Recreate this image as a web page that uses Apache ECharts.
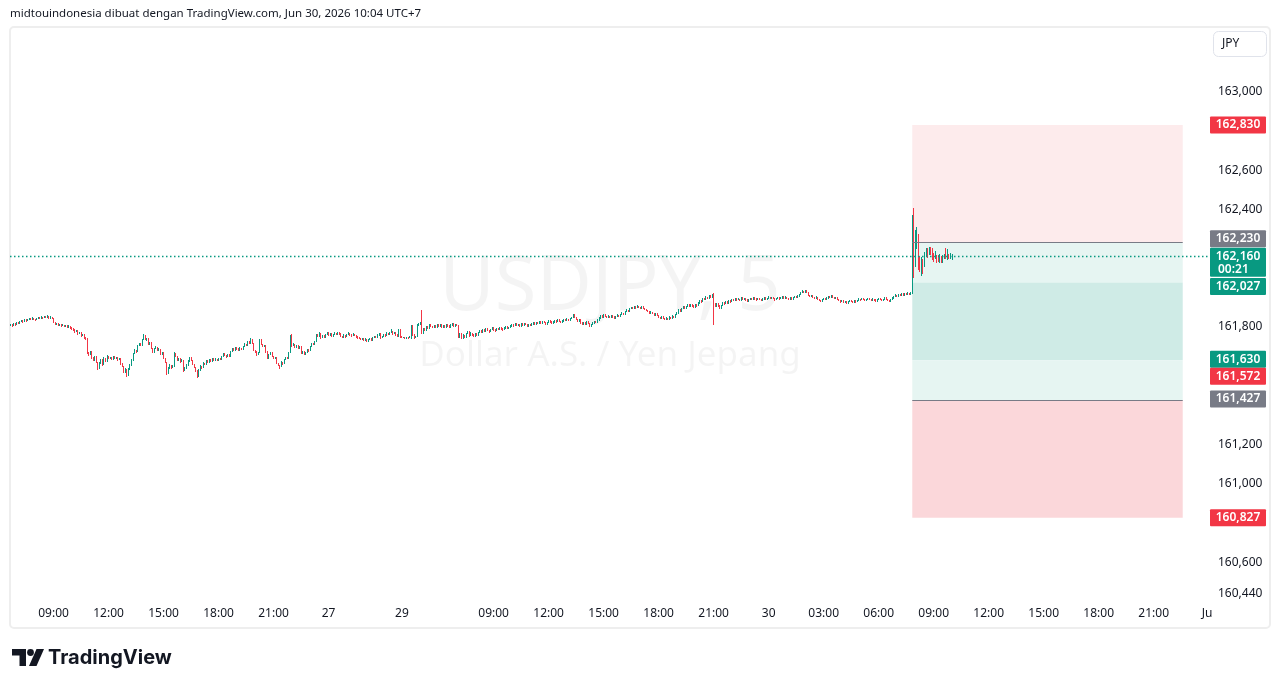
<!DOCTYPE html>
<html>
<head>
<meta charset="utf-8">
<script src="https://cdn.jsdelivr.net/npm/echarts@6/dist/echarts.min.js"></script>
<style>
  html, body { margin: 0; padding: 0; background: #fff; }
  #chart { width: 1281px; height: 688px; }
</style>
</head>
<body>
<div id="chart"></div>
<script>
// USDJPY 5 menit, sesi perdagangan (UTC+7), akhir pekan dilewati
const sessions = [
  ['2026-06-26 06:40', '2026-06-27 03:55'],
  ['2026-06-29 04:00', '2026-07-01 00:05']
]

// label sumbu waktu
const timeLabels = [
  ['2026-06-26 09:00', '09:00'], ['2026-06-26 12:00', '12:00'], ['2026-06-26 15:00', '15:00'],
  ['2026-06-26 18:00', '18:00'], ['2026-06-26 21:00', '21:00'], ['2026-06-27 00:00', '27'],
  ['2026-06-29 04:00', '29'], ['2026-06-29 09:00', '09:00'], ['2026-06-29 12:00', '12:00'],
  ['2026-06-29 15:00', '15:00'], ['2026-06-29 18:00', '18:00'], ['2026-06-29 21:00', '21:00'],
  ['2026-06-30 00:00', '30'], ['2026-06-30 03:00', '03:00'], ['2026-06-30 06:00', '06:00'],
  ['2026-06-30 09:00', '09:00'], ['2026-06-30 12:00', '12:00'], ['2026-06-30 15:00', '15:00'],
  ['2026-06-30 18:00', '18:00'], ['2026-06-30 21:00', '21:00'], ['2026-07-01 00:00', 'Jul']
]

// label harga sumbu kanan
const priceTicks = [160.44, 160.6, 161.0, 161.2, 161.8, 162.4, 162.6, 163.0]

// [open, close, low, high]
const candles = [
  [161.808,161.812,161.803,161.816],[161.812,161.805,161.801,161.815],[161.805,161.815,161.803,161.818],[161.815,161.810,161.806,161.819],[161.810,161.822,161.808,161.825],[161.822,161.818,161.814,161.826],
  [161.818,161.828,161.816,161.831],[161.828,161.832,161.825,161.836],[161.832,161.826,161.822,161.835],[161.826,161.835,161.824,161.839],[161.835,161.830,161.827,161.838],[161.830,161.838,161.828,161.842],
  [161.838,161.842,161.835,161.846],[161.842,161.836,161.833,161.845],[161.836,161.845,161.834,161.849],[161.845,161.840,161.837,161.848],[161.840,161.835,161.831,161.842],[161.835,161.843,161.833,161.846],
  [161.843,161.848,161.840,161.852],[161.848,161.842,161.839,161.850],[161.842,161.850,161.840,161.854],[161.850,161.846,161.843,161.853],[161.846,161.852,161.844,161.856],[161.852,161.848,161.845,161.855],
  [161.848,161.855,161.846,161.859],[161.855,161.846,161.843,161.857],[161.846,161.850,161.842,161.854],[161.850,161.842,161.838,161.852],[161.842,161.822,161.818,161.845],[161.822,161.815,161.811,161.825],
  [161.815,161.818,161.812,161.822],[161.818,161.808,161.804,161.820],[161.808,161.812,161.805,161.816],[161.812,161.805,161.801,161.814],[161.805,161.810,161.803,161.814],[161.810,161.802,161.798,161.812],
  [161.802,161.808,161.800,161.811],[161.808,161.800,161.796,161.810],[161.800,161.805,161.797,161.808],[161.805,161.796,161.792,161.807],[161.796,161.790,161.786,161.799],[161.790,161.785,161.781,161.793],
  [161.785,161.775,161.771,161.787],[161.775,161.780,161.772,161.783],[161.780,161.765,161.761,161.782],[161.765,161.770,161.762,161.774],[161.770,161.755,161.751,161.772],[161.755,161.760,161.752,161.764],
  [161.760,161.745,161.741,161.762],[161.745,161.740,161.735,161.749],[161.740,161.668,161.662,161.742],[161.668,161.660,161.652,161.672],[161.660,161.672,161.656,161.676],[161.672,161.640,161.635,161.675],
  [161.640,161.630,161.625,161.645],[161.630,161.648,161.627,161.652],[161.648,161.620,161.615,161.650],[161.620,161.590,161.578,161.623],[161.590,161.615,161.586,161.619],[161.615,161.632,161.612,161.637],
  [161.632,161.608,161.603,161.634],[161.608,161.640,161.605,161.645],[161.640,161.625,161.620,161.643],[161.625,161.650,161.622,161.655],[161.650,161.638,161.634,161.653],[161.638,161.645,161.635,161.649],
  [161.645,161.635,161.631,161.648],[161.635,161.648,161.633,161.652],[161.648,161.640,161.637,161.651],[161.640,161.645,161.637,161.649],[161.645,161.632,161.628,161.647],[161.632,161.638,161.629,161.641],
  [161.638,161.610,161.606,161.640],[161.610,161.600,161.596,161.614],[161.600,161.570,161.565,161.603],[161.570,161.585,161.566,161.589],[161.585,161.555,161.545,161.587],[161.555,161.585,161.552,161.590],
  [161.585,161.605,161.582,161.609],[161.605,161.630,161.602,161.634],[161.630,161.665,161.627,161.669],[161.665,161.680,161.662,161.685],[161.680,161.672,161.668,161.684],[161.672,161.705,161.670,161.709],
  [161.705,161.715,161.701,161.720],[161.715,161.708,161.704,161.718],[161.708,161.735,161.705,161.739],[161.735,161.755,161.732,161.765],[161.755,161.735,161.731,161.758],[161.735,161.740,161.730,161.744],
  [161.740,161.712,161.708,161.743],[161.712,161.720,161.709,161.724],[161.720,161.690,161.686,161.722],[161.690,161.672,161.667,161.693],[161.672,161.690,161.669,161.694],[161.690,161.698,161.686,161.702],
  [161.698,161.680,161.676,161.700],[161.680,161.688,161.677,161.692],[161.688,161.660,161.656,161.690],[161.660,161.668,161.657,161.672],[161.668,161.640,161.636,161.670],[161.640,161.620,161.615,161.643],
  [161.620,161.565,161.556,161.622],[161.565,161.590,161.562,161.594],[161.590,161.605,161.586,161.609],[161.605,161.592,161.588,161.608],[161.592,161.600,161.589,161.604],[161.600,161.665,161.597,161.670],
  [161.665,161.650,161.646,161.668],[161.650,161.628,161.624,161.652],[161.628,161.640,161.625,161.644],[161.640,161.622,161.618,161.642],[161.622,161.630,161.619,161.634],[161.630,161.578,161.572,161.632],
  [161.578,161.590,161.575,161.594],[161.590,161.605,161.587,161.609],[161.605,161.625,161.602,161.629],[161.625,161.642,161.622,161.647],[161.642,161.630,161.626,161.645],[161.630,161.610,161.606,161.632],
  [161.610,161.595,161.590,161.613],[161.595,161.575,161.570,161.598],[161.575,161.548,161.540,161.578],[161.548,161.580,161.545,161.584],[161.580,161.600,161.577,161.604],[161.600,161.592,161.588,161.603],
  [161.592,161.615,161.589,161.619],[161.615,161.610,161.606,161.618],[161.610,161.628,161.607,161.632],[161.628,161.620,161.616,161.631],[161.620,161.632,161.618,161.636],[161.632,161.625,161.621,161.635],
  [161.625,161.638,161.622,161.642],[161.638,161.630,161.626,161.641],[161.630,161.636,161.627,161.640],[161.636,161.628,161.624,161.639],[161.628,161.640,161.625,161.644],[161.640,161.635,161.631,161.643],
  [161.635,161.650,161.632,161.654],[161.650,161.662,161.647,161.667],[161.662,161.655,161.651,161.665],[161.655,161.648,161.644,161.658],[161.648,161.660,161.645,161.664],[161.660,161.652,161.648,161.663],
  [161.652,161.675,161.649,161.679],[161.675,161.690,161.672,161.694],[161.690,161.682,161.678,161.693],[161.682,161.695,161.679,161.699],[161.695,161.688,161.684,161.698],[161.688,161.680,161.676,161.691],
  [161.680,161.692,161.677,161.696],[161.692,161.685,161.681,161.695],[161.685,161.700,161.682,161.704],[161.700,161.712,161.697,161.716],[161.712,161.705,161.701,161.715],[161.705,161.725,161.702,161.729],
  [161.725,161.718,161.714,161.728],[161.718,161.738,161.715,161.745],[161.738,161.715,161.711,161.741],[161.715,161.680,161.676,161.718],[161.680,161.672,161.667,161.684],[161.672,161.658,161.653,161.675],
  [161.658,161.668,161.655,161.672],[161.668,161.735,161.665,161.740],[161.735,161.712,161.708,161.738],[161.712,161.700,161.696,161.715],[161.700,161.705,161.697,161.709],[161.705,161.672,161.668,161.708],
  [161.672,161.640,161.636,161.675],[161.640,161.660,161.637,161.664],[161.660,161.670,161.657,161.674],[161.670,161.650,161.646,161.673],[161.650,161.638,161.634,161.653],[161.638,161.645,161.635,161.649],
  [161.645,161.615,161.611,161.647],[161.615,161.605,161.601,161.618],[161.605,161.598,161.588,161.608],[161.598,161.620,161.595,161.624],[161.620,161.612,161.608,161.623],[161.612,161.632,161.609,161.636],
  [161.632,161.645,161.629,161.649],[161.645,161.640,161.636,161.648],[161.640,161.668,161.637,161.672],[161.668,161.755,161.665,161.760],[161.755,161.705,161.700,161.765],[161.705,161.712,161.701,161.716],
  [161.712,161.695,161.691,161.715],[161.695,161.705,161.692,161.709],[161.705,161.690,161.686,161.708],[161.690,161.700,161.687,161.704],[161.700,161.665,161.661,161.702],[161.665,161.672,161.662,161.676],
  [161.672,161.660,161.656,161.675],[161.660,161.668,161.657,161.672],[161.668,161.685,161.665,161.689],[161.685,161.678,161.674,161.688],[161.678,161.700,161.675,161.704],[161.700,161.715,161.697,161.719],
  [161.715,161.710,161.706,161.718],[161.710,161.725,161.707,161.729],[161.725,161.760,161.722,161.765],[161.760,161.752,161.748,161.763],[161.752,161.768,161.749,161.772],[161.768,161.745,161.741,161.770],
  [161.745,161.755,161.742,161.759],[161.755,161.748,161.744,161.758],[161.748,161.762,161.745,161.766],[161.762,161.770,161.759,161.774],[161.770,161.758,161.754,161.773],[161.758,161.765,161.755,161.769],
  [161.765,161.752,161.748,161.768],[161.752,161.760,161.749,161.764],[161.760,161.768,161.757,161.772],[161.768,161.762,161.758,161.771],[161.762,161.770,161.759,161.774],[161.770,161.765,161.761,161.773],
  [161.765,161.752,161.748,161.768],[161.752,161.748,161.744,161.755],[161.748,161.758,161.745,161.762],[161.758,161.750,161.746,161.761],[161.750,161.762,161.747,161.766],[161.762,161.768,161.759,161.772],
  [161.768,161.760,161.756,161.771],[161.760,161.755,161.751,161.763],[161.755,161.763,161.752,161.767],[161.763,161.758,161.754,161.766],[161.758,161.750,161.746,161.761],[161.750,161.745,161.741,161.753],
  [161.745,161.740,161.736,161.748],[161.740,161.735,161.731,161.743],[161.735,161.742,161.732,161.746],[161.742,161.730,161.726,161.745],[161.730,161.738,161.727,161.742],[161.738,161.728,161.724,161.741],
  [161.728,161.735,161.725,161.739],[161.735,161.740,161.732,161.744],[161.740,161.732,161.728,161.743],[161.732,161.745,161.729,161.749],[161.745,161.752,161.742,161.756],[161.752,161.748,161.744,161.755],
  [161.748,161.758,161.745,161.762],[161.758,161.765,161.755,161.770],[161.765,161.745,161.741,161.768],[161.745,161.752,161.742,161.756],[161.752,161.760,161.749,161.764],[161.760,161.755,161.751,161.763],
  [161.755,161.768,161.752,161.772],[161.768,161.762,161.758,161.771],[161.762,161.770,161.759,161.774],[161.770,161.778,161.767,161.790],[161.778,161.765,161.761,161.781],[161.765,161.772,161.762,161.776],
  [161.772,161.760,161.756,161.775],[161.760,161.752,161.748,161.763],[161.752,161.785,161.749,161.789],[161.785,161.750,161.746,161.788],
  [161.750,161.745,161.742,161.752],[161.745,161.748,161.743,161.750],
  [161.748,161.742,161.740,161.750],[161.742,161.746,161.740,161.748],[161.746,161.744,161.741,161.748],[161.744,161.750,161.742,161.753],[161.750,161.805,161.738,161.812],[161.805,161.760,161.756,161.808],
  [161.760,161.745,161.738,161.763],[161.745,161.752,161.742,161.756],[161.752,161.810,161.749,161.815],[161.810,161.815,161.806,161.820],[161.815,161.822,161.812,161.826],[161.822,161.770,161.765,161.887],
  [161.770,161.790,161.766,161.794],[161.790,161.782,161.778,161.793],[161.782,161.800,161.779,161.804],[161.800,161.795,161.791,161.803],[161.795,161.810,161.792,161.814],[161.810,161.802,161.798,161.813],
  [161.802,161.798,161.794,161.805],[161.798,161.808,161.795,161.812],[161.808,161.800,161.796,161.811],[161.800,161.812,161.797,161.816],[161.812,161.805,161.801,161.815],[161.805,161.810,161.802,161.814],
  [161.810,161.798,161.794,161.813],[161.798,161.805,161.795,161.809],[161.805,161.800,161.796,161.808],[161.800,161.812,161.797,161.816],[161.812,161.806,161.802,161.815],[161.806,161.800,161.796,161.809],
  [161.800,161.810,161.797,161.814],[161.810,161.815,161.807,161.819],[161.815,161.805,161.801,161.818],[161.805,161.812,161.802,161.816],[161.812,161.808,161.804,161.815],[161.808,161.750,161.745,161.811],
  [161.750,161.765,161.746,161.769],[161.765,161.742,161.737,161.768],[161.742,161.758,161.739,161.762],[161.758,161.748,161.744,161.761],[161.748,161.765,161.745,161.769],[161.765,161.775,161.762,161.779],
  [161.775,161.755,161.751,161.778],[161.755,161.768,161.752,161.772],[161.768,161.760,161.756,161.771],[161.760,161.752,161.748,161.763],[161.752,161.765,161.749,161.769],[161.765,161.758,161.754,161.768],
  [161.758,161.770,161.755,161.774],[161.770,161.780,161.767,161.784],[161.780,161.772,161.768,161.783],[161.772,161.785,161.769,161.789],[161.785,161.778,161.774,161.788],[161.778,161.790,161.775,161.794],
  [161.790,161.782,161.778,161.793],[161.782,161.775,161.771,161.785],[161.775,161.788,161.772,161.792],[161.788,161.795,161.785,161.799],[161.795,161.785,161.781,161.798],[161.785,161.780,161.776,161.788],
  [161.780,161.792,161.777,161.796],[161.792,161.786,161.782,161.795],[161.786,161.795,161.783,161.799],[161.795,161.790,161.786,161.798],[161.790,161.785,161.781,161.793],[161.785,161.795,161.782,161.799],
  [161.795,161.800,161.792,161.804],[161.800,161.792,161.788,161.803],[161.792,161.798,161.789,161.802],[161.798,161.805,161.795,161.809],[161.805,161.812,161.802,161.816],[161.812,161.806,161.802,161.815],
  [161.806,161.815,161.803,161.819],[161.815,161.808,161.804,161.818],[161.808,161.812,161.805,161.816],[161.812,161.805,161.801,161.815],[161.805,161.815,161.802,161.819],[161.815,161.810,161.806,161.818],
  [161.810,161.818,161.807,161.822],[161.818,161.812,161.808,161.821],[161.812,161.805,161.801,161.815],[161.805,161.812,161.802,161.816],[161.812,161.808,161.804,161.815],[161.808,161.815,161.805,161.819],
  [161.815,161.822,161.812,161.826],[161.822,161.815,161.811,161.825],[161.815,161.822,161.812,161.826],[161.822,161.818,161.814,161.825],[161.818,161.825,161.815,161.829],[161.825,161.820,161.816,161.828],
  [161.820,161.828,161.817,161.832],[161.828,161.822,161.818,161.831],[161.822,161.815,161.811,161.825],[161.815,161.822,161.812,161.826],[161.822,161.830,161.819,161.834],[161.830,161.825,161.821,161.833],
  [161.825,161.818,161.814,161.828],[161.818,161.825,161.815,161.829],[161.825,161.832,161.822,161.836],[161.832,161.826,161.822,161.835],[161.826,161.835,161.823,161.839],[161.835,161.828,161.824,161.838],
  [161.828,161.822,161.818,161.831],[161.822,161.830,161.819,161.834],[161.830,161.838,161.827,161.842],[161.838,161.832,161.828,161.841],[161.832,161.840,161.829,161.844],[161.840,161.835,161.831,161.843],
  [161.835,161.842,161.832,161.846],[161.842,161.848,161.839,161.852],[161.848,161.862,161.845,161.867],[161.862,161.850,161.846,161.865],[161.850,161.838,161.834,161.853],[161.838,161.828,161.824,161.841],
  [161.828,161.835,161.825,161.839],[161.835,161.820,161.816,161.838],[161.820,161.812,161.808,161.823],[161.812,161.820,161.809,161.824],[161.820,161.812,161.808,161.823],[161.812,161.825,161.809,161.829],
  [161.825,161.818,161.814,161.828],[161.818,161.805,161.801,161.821],[161.805,161.812,161.802,161.816],[161.812,161.820,161.809,161.824],[161.820,161.828,161.817,161.832],[161.828,161.822,161.818,161.831],
  [161.822,161.835,161.819,161.839],[161.835,161.845,161.832,161.849],[161.845,161.858,161.842,161.863],[161.858,161.850,161.846,161.861],[161.850,161.862,161.847,161.866],[161.862,161.855,161.851,161.865],
  [161.855,161.848,161.844,161.858],[161.848,161.855,161.845,161.859],[161.855,161.850,161.846,161.858],[161.850,161.858,161.847,161.862],[161.858,161.852,161.848,161.861],[161.852,161.845,161.841,161.855],
  [161.845,161.852,161.842,161.856],[161.852,161.860,161.849,161.864],[161.860,161.855,161.851,161.863],[161.855,161.862,161.852,161.866],[161.862,161.870,161.859,161.874],[161.870,161.865,161.861,161.873],
  [161.865,161.878,161.862,161.882],[161.878,161.885,161.875,161.889],[161.885,161.880,161.876,161.888],[161.880,161.892,161.877,161.896],[161.892,161.900,161.889,161.904],[161.900,161.895,161.891,161.903],
  [161.895,161.905,161.892,161.909],[161.905,161.898,161.894,161.908],[161.898,161.906,161.895,161.910],[161.906,161.900,161.896,161.909],[161.900,161.895,161.891,161.903],[161.895,161.902,161.892,161.906],
  [161.902,161.896,161.892,161.905],[161.896,161.890,161.886,161.899],[161.890,161.885,161.881,161.893],[161.885,161.878,161.874,161.888],[161.878,161.870,161.866,161.881],[161.870,161.875,161.867,161.879],
  [161.875,161.868,161.864,161.878],[161.868,161.860,161.856,161.871],[161.860,161.866,161.857,161.870],[161.866,161.858,161.854,161.869],[161.858,161.850,161.846,161.861],[161.850,161.845,161.841,161.853],
  [161.845,161.852,161.842,161.856],[161.852,161.842,161.838,161.855],[161.842,161.838,161.834,161.845],[161.838,161.845,161.835,161.849],[161.845,161.840,161.836,161.848],[161.840,161.850,161.837,161.854],
  [161.850,161.845,161.841,161.853],[161.845,161.855,161.842,161.859],[161.855,161.848,161.844,161.858],[161.848,161.862,161.845,161.866],[161.862,161.870,161.859,161.874],[161.870,161.888,161.867,161.892],
  [161.888,161.880,161.876,161.891],[161.880,161.895,161.877,161.899],[161.895,161.902,161.892,161.906],[161.902,161.895,161.891,161.905],[161.895,161.905,161.892,161.909],[161.905,161.912,161.902,161.916],
  [161.912,161.905,161.901,161.915],[161.905,161.915,161.902,161.919],[161.915,161.908,161.904,161.918],[161.908,161.902,161.898,161.911],[161.902,161.912,161.899,161.916],[161.912,161.908,161.904,161.915],
  [161.908,161.922,161.905,161.926],[161.922,161.935,161.919,161.939],[161.935,161.928,161.924,161.938],[161.928,161.945,161.925,161.949],[161.945,161.940,161.936,161.948],[161.940,161.952,161.937,161.956],
  [161.952,161.945,161.941,161.955],[161.945,161.958,161.942,161.962],[161.958,161.950,161.946,161.961],[161.950,161.962,161.947,161.966],[161.962,161.918,161.812,161.972],[161.918,161.905,161.900,161.922],
  [161.905,161.920,161.902,161.924],[161.920,161.908,161.904,161.923],[161.908,161.895,161.890,161.911],[161.895,161.910,161.892,161.914],[161.910,161.925,161.907,161.929],[161.925,161.918,161.914,161.928],
  [161.918,161.930,161.915,161.934],[161.930,161.922,161.918,161.933],[161.922,161.935,161.919,161.939],[161.935,161.928,161.924,161.938],[161.928,161.940,161.925,161.944],[161.940,161.935,161.931,161.943],
  [161.935,161.945,161.932,161.949],[161.945,161.938,161.934,161.948],[161.938,161.942,161.935,161.946],[161.942,161.935,161.931,161.945],[161.935,161.948,161.932,161.952],[161.948,161.940,161.936,161.951],
  [161.940,161.945,161.937,161.949],[161.945,161.938,161.934,161.948],[161.938,161.932,161.928,161.941],[161.932,161.940,161.929,161.944],[161.940,161.946,161.937,161.950],[161.946,161.940,161.936,161.949],
  [161.940,161.950,161.937,161.954],[161.950,161.943,161.939,161.953],[161.943,161.938,161.934,161.946],[161.938,161.945,161.935,161.949],[161.945,161.940,161.936,161.948],[161.940,161.935,161.931,161.943],
  [161.935,161.942,161.932,161.946],[161.942,161.948,161.939,161.952],[161.948,161.940,161.936,161.951],[161.940,161.946,161.937,161.950],[161.946,161.952,161.943,161.956],[161.952,161.945,161.941,161.955],
  [161.945,161.950,161.942,161.954],[161.950,161.944,161.940,161.953],[161.944,161.938,161.934,161.947],[161.938,161.945,161.935,161.949],[161.945,161.950,161.942,161.954],[161.950,161.943,161.939,161.953],
  [161.943,161.948,161.940,161.952],[161.948,161.955,161.945,161.959],[161.955,161.948,161.944,161.958],[161.948,161.952,161.945,161.956],[161.952,161.945,161.941,161.955],[161.945,161.940,161.936,161.948],
  [161.940,161.948,161.937,161.952],[161.948,161.942,161.938,161.951],[161.942,161.950,161.939,161.954],[161.950,161.956,161.947,161.960],[161.956,161.950,161.946,161.959],[161.950,161.958,161.947,161.962],
  [161.958,161.965,161.955,161.969],[161.965,161.975,161.962,161.979],[161.975,161.982,161.972,161.986],[161.982,161.976,161.972,161.985],[161.976,161.985,161.973,161.990],[161.985,161.975,161.971,161.988],
  [161.975,161.962,161.958,161.978],[161.962,161.955,161.951,161.965],[161.955,161.960,161.952,161.964],[161.960,161.950,161.946,161.963],[161.950,161.945,161.941,161.953],[161.945,161.952,161.942,161.956],
  [161.952,161.940,161.936,161.955],[161.940,161.935,161.931,161.943],[161.935,161.930,161.926,161.938],[161.930,161.938,161.927,161.942],[161.938,161.945,161.935,161.949],[161.945,161.940,161.936,161.948],
  [161.940,161.948,161.937,161.952],[161.948,161.955,161.945,161.959],[161.955,161.950,161.946,161.958],[161.950,161.958,161.947,161.962],[161.958,161.952,161.948,161.961],[161.952,161.945,161.941,161.955],
  [161.945,161.950,161.942,161.954],[161.950,161.942,161.938,161.953],[161.942,161.935,161.931,161.945],[161.935,161.928,161.924,161.938],[161.928,161.932,161.925,161.936],[161.932,161.925,161.921,161.935],
  [161.925,161.930,161.922,161.934],[161.930,161.922,161.918,161.933],[161.922,161.928,161.919,161.932],[161.928,161.935,161.925,161.939],[161.935,161.930,161.926,161.938],[161.930,161.925,161.921,161.933],
  [161.925,161.932,161.922,161.936],[161.932,161.928,161.924,161.935],[161.928,161.935,161.925,161.939],[161.935,161.942,161.932,161.946],[161.942,161.938,161.934,161.945],[161.938,161.945,161.935,161.949],
  [161.945,161.940,161.936,161.948],[161.940,161.935,161.931,161.943],[161.935,161.940,161.932,161.944],[161.940,161.946,161.937,161.950],[161.946,161.940,161.936,161.949],[161.940,161.935,161.931,161.943],
  [161.935,161.942,161.932,161.946],[161.942,161.938,161.934,161.945],[161.938,161.932,161.928,161.941],[161.932,161.938,161.929,161.942],[161.938,161.945,161.935,161.949],[161.945,161.940,161.936,161.948],
  [161.940,161.935,161.931,161.943],[161.935,161.940,161.932,161.944],[161.940,161.948,161.937,161.952],[161.948,161.942,161.938,161.951],[161.942,161.936,161.932,161.945],[161.936,161.930,161.926,161.939],
  [161.930,161.938,161.927,161.942],[161.938,161.948,161.935,161.952],[161.948,161.955,161.945,161.959],[161.955,161.962,161.952,161.966],[161.962,161.958,161.954,161.965],[161.958,161.965,161.955,161.969],
  [161.965,161.960,161.956,161.968],[161.960,161.968,161.957,161.972],[161.968,161.962,161.958,161.971],[161.962,161.970,161.959,161.974],[161.970,161.965,161.961,161.973],[161.965,161.972,161.962,161.976],
  [161.972,161.966,161.962,161.975],[161.966,161.975,161.963,161.979],[161.975,162.360,161.970,162.372],[162.360,162.070,162.050,162.408],[162.110,162.290,162.105,162.295],[162.205,162.305,162.200,162.310],
  [162.270,162.095,162.088,162.275],[162.150,162.090,162.082,162.160],[162.072,162.150,162.062,162.155],[162.140,162.075,162.068,162.145],[162.115,162.178,162.108,162.184],[162.165,162.198,162.160,162.203],
  [162.198,162.158,162.150,162.203],[162.170,162.205,162.166,162.210],[162.205,162.170,162.165,162.210],[162.195,162.145,162.140,162.203],[162.172,162.135,162.130,162.177],[162.152,162.180,162.148,162.185],
  [162.165,162.128,162.124,162.168],[162.162,162.135,162.130,162.166],[162.130,162.165,162.126,162.170],[162.158,162.128,162.124,162.162],[162.132,162.162,162.128,162.166],[162.150,162.166,162.146,162.170],
  [162.200,162.150,162.146,162.205],[162.145,162.195,162.140,162.200],[162.168,162.148,162.144,162.172],[162.150,162.170,162.146,162.175],[162.152,162.160,162.142,162.172]
]

// alat posisi panjang/pendek dan level harga
const lastPrice = 162.160
const boxStart = '2026-06-30 07:50'
const boxEnd = '2026-06-30 22:35'
const boxBands = [
  [162.830, 162.230, '#fdebec'],
  [162.230, 162.027, '#e6f5f2'],
  [162.027, 161.630, '#cfebe6'],
  [161.630, 161.427, '#e6f5f2'],
  [161.427, 160.827, '#fbd7da']
]
const entryLines = [162.230, 161.427]
const priceTags = [
  { v: 162.830, color: '#f23645', dy: 0 },
  { v: 162.230, color: '#787b86', dy: -4 },
  { v: 162.160, color: '#089981', dy: 0, sub: '00:21' },
  { v: 162.027, color: '#089981', dy: 4 },
  { v: 161.630, color: '#089981', dy: -1 },
  { v: 161.572, color: '#f23645', dy: 4.5 },
  { v: 161.427, color: '#787b86', dy: -1 },
  { v: 160.827, color: '#f23645', dy: 0 }
]

const FONT = '"Noto Sans", "Liberation Sans", sans-serif'
const TEXT = '#131722'
const UP = '#089981'
const DOWN = '#f23645'

function parseTime(s) {
  const [d, t] = s.split(' ')
  const [Y, M, D] = d.split('-').map(Number)
  const [h, m] = t.split(':').map(Number)
  return Date.UTC(Y, M - 1, D, h, m)
}
function fmtTime(ts) {
  const d = new Date(ts)
  const p = (n) => String(n).padStart(2, '0')
  return `${d.getUTCFullYear()}-${p(d.getUTCMonth() + 1)}-${p(d.getUTCDate())} ${p(d.getUTCHours())}:${p(d.getUTCMinutes())}`
}
const fmtPrice = (v) => v.toFixed(3).replace('.', ',')

const categories = []
sessions.forEach(([a, b]) => {
  for (let t = parseTime(a); t <= parseTime(b); t += 5 * 60 * 1000) categories.push(fmtTime(t))
})
const labelMap = new Map(timeLabels)

// lilin 1px seperti TradingView pada zoom ini
function renderCandle(params, api) {
  const i = api.value(0)
  const o = api.value(1)
  const c = api.value(2)
  const lo = api.coord([i, api.value(3)])
  const hi = api.coord([i, api.value(4)])
  const x = Math.round(lo[0] - 0.5)
  const y1 = Math.round(hi[1])
  const y2 = Math.max(Math.round(lo[1]), y1 + 1)
  return {
    type: 'rect',
    shape: { x, y: y1, width: 1, height: y2 - y1 },
    style: { fill: c >= o ? UP : DOWN }
  }
}

const chart = echarts.init(document.getElementById('chart'))

const option = {
  animation: false,
  backgroundColor: '#ffffff',
  textStyle: { fontFamily: FONT },
  grid: { left: 10, right: 70, top: 28, bottom: 88 },
  xAxis: {
    type: 'category',
    data: categories,
    boundaryGap: true,
    axisLine: { show: false },
    axisTick: { show: false },
    splitLine: { show: false },
    axisLabel: {
      interval: (index, value) => labelMap.has(value),
      formatter: (value) => labelMap.get(value) || '',
      color: TEXT,
      fontSize: 12,
      fontFamily: FONT,
      margin: 8
    }
  },
  yAxis: {
    type: 'value',
    position: 'right',
    min: 160.4073,
    max: 163.3247,
    splitLine: { show: false },
    axisLine: { show: false },
    axisTick: { show: false },
    axisLabel: {
      customValues: priceTicks,
      formatter: (v) => fmtPrice(v),
      color: TEXT,
      fontSize: 12,
      fontFamily: FONT,
      margin: 7
    }
  },
  series: [
    {
      name: 'posisi',
      type: 'line',
      data: [],
      z: 1,
      silent: true,
      markArea: {
        silent: true,
        data: boxBands.map(([top, bottom, color]) => [
          { xAxis: boxStart, yAxis: top, itemStyle: { color } },
          { xAxis: boxEnd, yAxis: bottom }
        ])
      },
      markLine: {
        silent: true,
        symbol: 'none',
        label: { show: false },
        data: entryLines.map((v) => [
          { coord: [boxStart, v], lineStyle: { color: '#787b86', width: 1, type: 'solid' } },
          { coord: [boxEnd, v] }
        ])
      }
    },
    {
      name: 'USDJPY',
      type: 'custom',
      z: 3,
      silent: true,
      renderItem: renderCandle,
      encode: { x: 0, y: [1, 2, 3, 4] },
      data: candles.map((d, i) => [i, ...d]),
      markLine: {
        silent: true,
        symbol: 'none',
        label: { show: false },
        lineStyle: { color: UP, width: 1.3, type: [1.5, 2.5] },
        data: [{ yAxis: lastPrice }]
      }
    }
  ]
}

chart.setOption(option)

const gridRight = 1281 - 70
const graphics = [
  {
    type: 'text', z: 10,
    style: { text: 'midtouindonesia dibuat dengan TradingView.com, Jun 30, 2026 10:04 UTC+7', x: 10, y: 14,
      fill: TEXT, font: '11.5px ' + FONT, textVerticalAlign: 'middle', verticalAlign: 'middle' }
  },
  {
    type: 'rect', z: 0, silent: true,
    shape: { x: 10, y: 27, width: 1260, height: 601, r: 4 },
    style: { fill: 'none', stroke: '#eeeeee', lineWidth: 2 }
  },
  {
    type: 'text', z: 0, silent: true,
    style: { text: 'USDJPY, 5', x: 610, y: 288, fill: 'rgba(0,0,0,0.045)', font: '76px ' + FONT,
      textAlign: 'center', align: 'center', textVerticalAlign: 'middle', verticalAlign: 'middle' }
  },
  {
    type: 'text', z: 0, silent: true,
    style: { text: 'Dollar A.S. / Yen Jepang', x: 610, y: 356, fill: 'rgba(0,0,0,0.045)', font: '35px ' + FONT,
      textAlign: 'center', align: 'center', textVerticalAlign: 'middle', verticalAlign: 'middle' }
  },
  {
    type: 'rect', z: 10,
    shape: { x: 1213.5, y: 31.5, width: 53, height: 25, r: 5 },
    style: { fill: '#ffffff', stroke: '#e0e3eb', lineWidth: 1 }
  },
  {
    type: 'text', z: 11,
    style: { text: 'JPY', x: 1222, y: 44, fill: TEXT, font: '12px ' + FONT, textVerticalAlign: 'middle', verticalAlign: 'middle' }
  },
  {
    type: 'rect', z: 100,
    shape: { x: 1213, y: 603, width: 55, height: 22 },
    style: { fill: '#ffffff' }
  },
  {
    type: 'polygon', z: 10,
    shape: { points: [[12, 649], [26, 649], [26, 666], [19.5, 666], [19.5, 655.5], [12, 655.5]] },
    style: { fill: '#131722' }
  },
  {
    type: 'circle', z: 10,
    shape: { cx: 30.5, cy: 652.5, r: 3.4 },
    style: { fill: '#131722' }
  },
  {
    type: 'polygon', z: 10,
    shape: { points: [[36.5, 649], [44, 649], [36.5, 666], [29, 666]] },
    style: { fill: '#131722' }
  },
  {
    type: 'text', z: 10,
    style: { text: 'TradingView', x: 48, y: 658, fill: '#131722', font: 'bold 20px Inter, ' + FONT,
      textVerticalAlign: 'middle', verticalAlign: 'middle' }
  }
]

priceTags.forEach((t) => {
  const y = chart.convertToPixel({ yAxisIndex: 0 }, t.v) + t.dy
  const h = t.sub ? 29 : 17
  graphics.push({
    type: 'rect', z: 20,
    shape: { x: gridRight - 1, y: y - 8.5, width: 56, height: h, r: 1 },
    style: { fill: t.color }
  })
  graphics.push({
    type: 'text', z: 21,
    style: { text: fmtPrice(t.v), x: gridRight + 27, y: y, fill: '#ffffff', font: '600 12px ' + FONT,
      textAlign: 'center', align: 'center', textVerticalAlign: 'middle', verticalAlign: 'middle' }
  })
  if (t.sub) {
    graphics.push({
      type: 'text', z: 21,
      style: { text: t.sub, x: gridRight + 7, y: y + 13, fill: '#ffffff', font: '600 12px ' + FONT,
        textVerticalAlign: 'middle', verticalAlign: 'middle' }
    })
  }
})

chart.setOption({ graphic: graphics })
</script>
</body>
</html>
